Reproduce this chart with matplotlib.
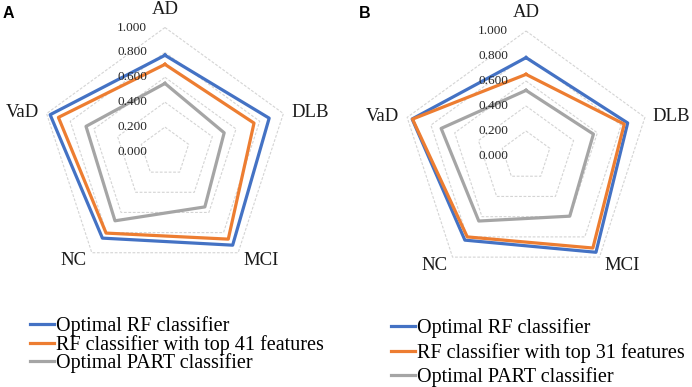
#!/usr/bin/env python3
"""Radar charts comparing classifier accuracy per diagnosis (panels A and B)."""

import matplotlib

matplotlib.use("Agg")
import matplotlib.pyplot as plt
import matplotlib.transforms as mtransforms
import numpy as np

CATEGORIES = ["AD", "DLB", "MCI", "NC", "VaD"]
RADIAL_TICKS = [0.0, 0.2, 0.4, 0.6, 0.8, 1.0]

# panel A
A_RF_OPT = [0.777, 0.880, 0.925, 0.855, 0.970]
A_RF_TOP = [0.704, 0.752, 0.865, 0.805, 0.900]
A_PART = [0.551, 0.500, 0.545, 0.683, 0.667]
A_LABELS = ["Optimal RF classifier", "RF classifier with top 41 features", "Optimal PART classifier"]

# panel B
B_RF_OPT = [0.787, 0.855, 0.952, 0.832, 0.958]
B_RF_TOP = [0.653, 0.826, 0.910, 0.800, 0.955]
B_PART = [0.525, 0.567, 0.595, 0.643, 0.714]
B_LABELS = ["Optimal RF classifier", "RF classifier with top 31 features", "Optimal PART classifier"]

COLORS = ["#4472C4", "#ED7D31", "#A5A5A5"]
GRID_COLOR = "#d4d4d4"
SERIF = "Liberation Serif"

# offsets (px) of category labels from their vertex, with alignment
LABEL_STYLE = {
    "AD": (0, 18, "center"),
    "DLB": (8, 1, "left"),
    "MCI": (5, -8, "left"),
    "NC": (-5, -8, "right"),
    "VaD": (-8, 1, "right"),
}


def closed(values):
    return list(values) + [values[0]]


def draw_radar(fig, rect, series, labels, legend_anchor, label_spacing):
    ax = fig.add_axes(rect, projection="polar")
    ax.set_theta_zero_location("N")
    ax.set_theta_direction(-1)
    ax.set_ylim(0, 1)
    ax.grid(False)
    ax.set_xticks([])
    ax.set_yticks([])
    ax.spines["polar"].set_visible(False)
    ax.patch.set_alpha(0)

    theta = np.deg2rad(np.arange(len(CATEGORIES)) * 360.0 / len(CATEGORIES))
    theta_c = closed(list(theta))

    # pentagon gridlines
    for r in RADIAL_TICKS[1:]:
        ax.plot(theta_c, [r] * len(theta_c), color=GRID_COLOR, lw=0.8,
                ls=(0, (2.5, 1.5)), zorder=1, clip_on=False)

    handles = []
    for vals, color, lab in zip(series, COLORS, labels):
        (ln,) = ax.plot(theta_c, closed(vals), color=color, lw=2.3,
                        zorder=3, clip_on=False, label=lab)
        handles.append(ln)

    # radial tick labels, left of the vertical axis
    tick_tr = mtransforms.offset_copy(ax.transData, fig=fig, x=-18, y=0, units="dots")
    for r in RADIAL_TICKS:
        ax.text(0, r, f"{r:.3f}", transform=tick_tr, ha="right", va="center",
                fontsize=9.5, family=SERIF, color="#262626", zorder=4)

    for th, cat in zip(theta, CATEGORIES):
        dx, dy, ha = LABEL_STYLE[cat]
        tr = mtransforms.offset_copy(ax.transData, fig=fig, x=dx, y=dy, units="dots")
        ax.text(th, 1.0, cat, transform=tr, ha=ha, va="center",
                fontsize=13.5, family=SERIF, color="#1a1a1a")

    fig.legend(handles=handles, loc="upper left", bbox_to_anchor=legend_anchor,
               bbox_transform=fig.transFigure, frameon=False, borderpad=0,
               borderaxespad=0, handlelength=1.2, handletextpad=0.1,
               labelspacing=label_spacing,
               prop={"family": SERIF, "size": 14.5})
    return ax


def main():
    fig = plt.figure(figsize=(6.92, 3.87), dpi=100)

    draw_radar(fig, [0.0585, 0.2855, 0.3598, 0.6434],
               [A_RF_OPT, A_RF_TOP, A_PART], A_LABELS,
               legend_anchor=(0.043, 0.184), label_spacing=-0.05)
    draw_radar(fig, [0.5795, 0.2739, 0.3613, 0.6460],
               [B_RF_OPT, B_RF_TOP, B_PART], B_LABELS,
               legend_anchor=(0.565, 0.178), label_spacing=0.23)

    fig.text(0.004, 0.985, "A", ha="left", va="top", fontsize=11.5,
             fontweight="bold", family="Liberation Sans")
    fig.text(0.518, 0.985, "B", ha="left", va="top", fontsize=11.5,
             fontweight="bold", family="Liberation Sans")

    fig.savefig("out.png", dpi=100)
    plt.close(fig)


if __name__ == "__main__":
    main()
